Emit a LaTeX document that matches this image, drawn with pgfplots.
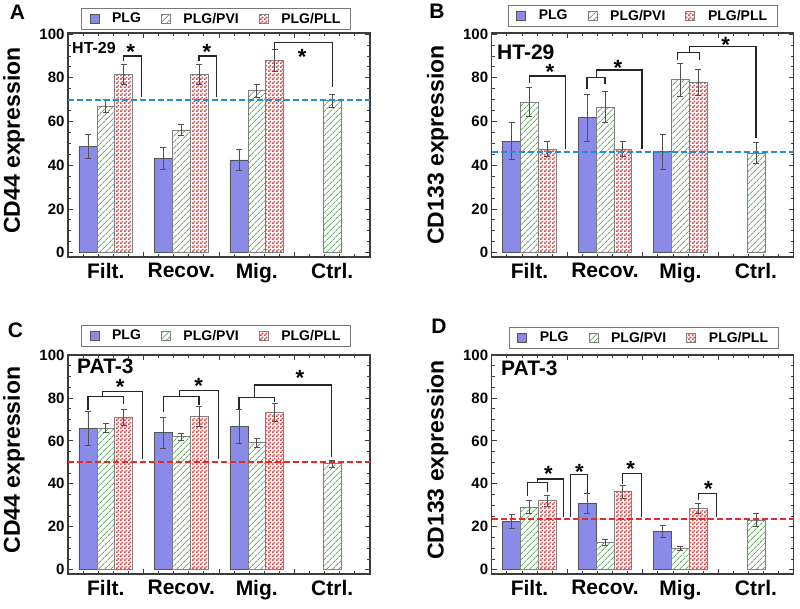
\documentclass[border=0pt]{standalone}
\usepackage{fontspec}
\setmainfont{Liberation Sans}
\usepackage{pgfplots}
\pgfplotsset{compat=1.18}
\usetikzlibrary{patterns,patterns.meta}

\pgfdeclarepatternformonly{checker}{\pgfpointorigin}{\pgfqpoint{4pt}{4pt}}{\pgfqpoint{4pt}{4pt}}{%
 \pgfpathrectangle{\pgfpointorigin}{\pgfqpoint{2pt}{2pt}}%
 \pgfpathrectangle{\pgfqpoint{2pt}{2pt}}{\pgfqpoint{2pt}{2pt}}%
 \pgfusepath{fill}}

\definecolor{plgblue}{RGB}{138,138,232}
\definecolor{pvigreen}{RGB}{105,180,105}
\definecolor{pllred}{RGB}{225,65,65}
\definecolor{dashblue}{RGB}{40,140,210}
\definecolor{dashred}{RGB}{235,40,40}
\definecolor{edgegray}{RGB}{85,85,85}
\definecolor{errgray}{RGB}{80,80,80}
\definecolor{framegray}{RGB}{60,60,60}
\definecolor{leggray}{RGB}{120,120,120}

\pgfplotsset{
 panel/.style={
  scale only axis, width=302pt,
  xmin=0.5, xmax=4.5, ymin=-2,
  xtick={0.5,1.5,2.5,3.5,4.5}, xticklabels={},
  minor x tick num=4,
  extra x ticks={1,2,3,4}, extra x tick labels={Filt.,Recov.,Mig.,Ctrl.},
  extra x tick style={major tick length=0pt},
  ytick={0,20,...,100}, minor y tick num=3,
  tick align=inside, major tick length=5pt, minor tick length=3pt,
  axis line style={draw=framegray, line width=1.2pt},
  every tick/.style={draw=framegray, line width=0.8pt},
  xticklabel style={font=\fontsize{21}{21}\selectfont\bfseries, yshift=-3pt},
  yticklabel style={font=\fontsize{15}{15}\selectfont\bfseries},
  /pgf/number format/assume math mode=true,
  ylabel style={font=\fontsize{23}{23}\selectfont\bfseries, at={(axis description cs:-0.179,0.52)}, anchor=center},
  legend columns=3,
  legend style={draw=leggray, line width=0.8pt, font=\fontsize{14}{14}\selectfont\bfseries, anchor=south,
    /tikz/every odd column/.append style={column sep=11pt},
    /tikz/every even column/.append style={column sep=18pt}, inner ysep=3pt, inner xsep=8pt},
  legend image code/.code={\draw[#1] (0pt,-4.5pt) rectangle (9pt,4.5pt);},
  clip=false,
 },
 errs/.style={error bars/.cd, y dir=both, y explicit,
   error bar style={draw=errgray, line width=0.7pt},
   error mark options={rotate=90, mark size=3pt, draw=errgray, line width=0.7pt}},
 plgstyle/.style={ybar, bar width=0.237, bar shift=0pt, fill=plgblue, draw=edgegray, line width=0.6pt, errs},
 pvistyle/.style={ybar, bar width=0.237, bar shift=0pt, pattern={Lines[angle=45,distance=4pt,line width=0.9pt]}, pattern color=pvigreen, draw=gray, line width=0.6pt, errs},
 pllstyle/.style={ybar, bar width=0.237, bar shift=0pt, pattern=checker, pattern color=pllred, draw=gray, line width=0.6pt, errs},
 dashb/.style={forget plot, dashblue, line width=1.8pt, dash pattern=on 6pt off 3pt},
 dashr/.style={forget plot, dashred, line width=1.8pt, dash pattern=on 6pt off 3pt},
}
\tikzset{brk/.style={line width=1.3pt, draw=black!85, line join=miter},
 star/.style={font=\fontsize{22}{22}\selectfont\bfseries, inner sep=0pt, yshift=-4pt},
 panellab/.style={font=\fontsize{21}{21}\selectfont\bfseries, inner sep=0pt}}

\begin{document}
\begin{tikzpicture}[x=1pt,y=1pt]
% ---------------- A ----------------
\begin{axis}[panel, at={(68pt,-257pt)}, anchor=south west, height=224pt, ymax=100.5,
  ylabel={CD44 expression}, legend style={at={(0.49,1)}, yshift=3pt}]
\addplot[plgstyle] table[x=x,y=y,y error=e,row sep=\\]{x y e\\ 0.763 48.5 5.4\\ 1.763 43 5\\ 2.763 42.4 4.7\\};
\addplot[pvistyle] table[x=x,y=y,y error=e,row sep=\\]{x y e\\ 1 67.1 3\\ 2 56.1 2.5\\ 3 74.2 3\\ 4 69.6 3\\};
\addplot[pllstyle] table[x=x,y=y,y error=e,row sep=\\]{x y e\\ 1.237 81.5 4.6\\ 2.237 81.5 4.5\\ 3.237 87.8 5\\};
\legend{PLG,PLG/PVI,PLG/PLL}
\addplot[dashb] coordinates {(0.5,70) (4.5,70)};
\draw[brk] (axis cs:1.237,87.5) -- (axis cs:1.237,90) -- (axis cs:1.47,90) -- (axis cs:1.47,71.4);
\draw[brk] (axis cs:2.237,87.5) -- (axis cs:2.237,90) -- (axis cs:2.47,90) -- (axis cs:2.47,71.4);
\draw[brk] (axis cs:3.237,92.8) -- (axis cs:3.237,96.3) -- (axis cs:4,96.3) -- (axis cs:4,75.7);
\node[star] at (axis cs:1.33,93.6) {*};
\node[star] at (axis cs:2.34,93.6) {*};
\node[star] at (axis cs:3.6,91.6) {*};
\end{axis}
% ---------------- B ----------------
\begin{axis}[panel, at={(491.7pt,-257pt)}, anchor=south west, height=224pt, ymax=100.5,
  ylabel={CD133 expression}, ylabel style={at={(axis description cs:-0.179,0.5)}},
  legend style={at={(0.5,1)}, yshift=6pt}]
\addplot[plgstyle] table[x=x,y=y,y error=e,row sep=\\]{x y e\\ 0.763 51 8.5\\ 1.763 61.7 10.6\\ 2.763 46.3 8\\};
\addplot[pvistyle] table[x=x,y=y,y error=e,row sep=\\]{x y e\\ 1 69 6.5\\ 2 66.7 6.9\\ 3 79.1 7.7\\ 4 45.6 4.8\\};
\addplot[pllstyle] table[x=x,y=y,y error=e,row sep=\\]{x y e\\ 1.237 47.4 3.4\\ 2.237 47.4 3.4\\ 3.237 78 5.9\\};
\legend{PLG,PLG/PVI,PLG/PLL}
\addplot[dashb] coordinates {(0.5,46) (4.5,46)};
\draw[brk] (axis cs:1,77.8) -- (axis cs:1,80.8) -- (axis cs:1.48,80.8) -- (axis cs:1.48,47.5);
\draw[brk] (axis cs:1.763,74.7) -- (axis cs:1.763,80) -- (axis cs:2,80) -- (axis cs:2,77);
\draw[brk] (axis cs:1.89,80) -- (axis cs:1.89,83.6) -- (axis cs:2.49,83.6) -- (axis cs:2.49,47.5);
\draw[brk] (axis cs:2.96,88.2) -- (axis cs:2.96,91.6) -- (axis cs:3.25,91.6) -- (axis cs:3.25,88.2);
\draw[brk] (axis cs:3.12,91.6) -- (axis cs:3.12,94.2) -- (axis cs:4,94.2) -- (axis cs:4,52.5);
\node[star] at (axis cs:1.27,84.5) {*};
\node[star] at (axis cs:2.17,86.5) {*};
\node[star] at (axis cs:3.6,97) {*};
\end{axis}
% ---------------- C ----------------
\begin{axis}[panel, at={(68pt,-574pt)}, anchor=south west, height=219pt, ymax=100,
  ylabel={CD44 expression}, legend style={at={(0.49,1)}, yshift=8pt}]
\addplot[plgstyle] table[x=x,y=y,y error=e,row sep=\\]{x y e\\ 0.763 66 7.9\\ 1.763 63.8 7.3\\ 2.763 66.7 7.9\\};
\addplot[pvistyle] table[x=x,y=y,y error=e,row sep=\\]{x y e\\ 1 66 2.2\\ 2 62 1.7\\ 3 59.2 2\\ 4 49.4 1.7\\};
\addplot[pllstyle] table[x=x,y=y,y error=e,row sep=\\]{x y e\\ 1.237 71 3.9\\ 2.237 71.5 4.5\\ 3.237 73.4 4.2\\};
\legend{PLG,PLG/PVI,PLG/PLL}
\addplot[dashr] coordinates {(0.5,50) (4.5,50)};
\draw[brk] (axis cs:0.763,74.4) -- (axis cs:0.763,80.6) -- (axis cs:1.237,80.6) -- (axis cs:1.237,77.2);
\draw[brk] (axis cs:0.96,80.6) -- (axis cs:0.96,82.9) -- (axis cs:1.485,82.9) -- (axis cs:1.485,51.7);
\draw[brk] (axis cs:1.763,73.5) -- (axis cs:1.763,80.6) -- (axis cs:2.237,80.6) -- (axis cs:2.237,76.5);
\draw[brk] (axis cs:1.98,80.6) -- (axis cs:1.98,83.4) -- (axis cs:2.49,83.4) -- (axis cs:2.49,51.7);
\draw[brk] (axis cs:2.763,74.9) -- (axis cs:2.763,80.3) -- (axis cs:3.237,80.3) -- (axis cs:3.237,78);
\draw[brk] (axis cs:2.97,80.3) -- (axis cs:2.97,86) -- (axis cs:3.99,86) -- (axis cs:3.99,52.5);
\node[star] at (axis cs:1.19,86.8) {*};
\node[star] at (axis cs:2.23,87.3) {*};
\node[star] at (axis cs:3.57,91.4) {*};
\end{axis}
% ---------------- D ----------------
\begin{axis}[panel, at={(491.7pt,-574pt)}, anchor=south west, height=219pt, ymax=100,
  ylabel={CD133 expression}, legend style={at={(0.503,1)}, yshift=6pt}]
\addplot[plgstyle] table[x=x,y=y,y error=e,row sep=\\]{x y e\\ 0.763 22.4 3.3\\ 1.763 30.9 4.6\\ 2.763 17.8 2.7\\};
\addplot[pvistyle] table[x=x,y=y,y error=e,row sep=\\]{x y e\\ 1 29.3 3.1\\ 2 12.7 1.3\\ 3 10 0.9\\ 4 23.2 3.1\\};
\addplot[pllstyle] table[x=x,y=y,y error=e,row sep=\\]{x y e\\ 1.237 32.1 2.7\\ 2.237 36.3 3.2\\ 3.237 28.6 2.5\\};
\legend{PLG,PLG/PVI,PLG/PLL}
\addplot[dashr] coordinates {(0.5,23.5) (4.5,23.5)};
\draw[brk] (axis cs:0.97,34.3) -- (axis cs:0.97,40.5) -- (axis cs:1.237,40.5) -- (axis cs:1.237,36.3);
\draw[brk] (axis cs:1.105,40.5) -- (axis cs:1.105,42.2) -- (axis cs:1.45,42.2) -- (axis cs:1.45,24.7);
\draw[brk] (axis cs:1.54,24.7) -- (axis cs:1.54,44.5) -- (axis cs:1.77,44.5) -- (axis cs:1.77,35.8);
\draw[brk] (axis cs:2.237,39.7) -- (axis cs:2.237,44.8) -- (axis cs:2.48,44.8) -- (axis cs:2.48,24.7);
\draw[brk] (axis cs:3.237,32.4) -- (axis cs:3.237,35.5) -- (axis cs:3.48,35.5) -- (axis cs:3.48,24.7);
\node[star] at (axis cs:1.25,46.3) {*};
\node[star] at (axis cs:1.66,47.5) {*};
\node[star] at (axis cs:2.34,49) {*};
\node[star] at (axis cs:3.37,39.7) {*};
\end{axis}
% panel letters and cell labels
\node[panellab] at (17.5,-12.5) {A};
\node[panellab] at (437,-11) {B};
\node[panellab] at (15.5,-330) {C};
\node[panellab] at (439,-326) {D};
\node[anchor=west, inner sep=0pt, font=\fontsize{16}{16}\selectfont\bfseries] at (72,-48) {HT-29};
\node[anchor=west, inner sep=0pt, font=\fontsize{21}{21}\selectfont\bfseries] at (497,-52) {HT-29};
\node[anchor=west, inner sep=0pt, font=\fontsize{21}{21}\selectfont\bfseries] at (77,-366) {PAT-3};
\node[anchor=west, inner sep=0pt, font=\fontsize{21}{21}\selectfont\bfseries] at (501,-368) {PAT-3};
\pgfresetboundingbox
\path[use as bounding box] (0,0) rectangle (800,-608);
\end{tikzpicture}
\end{document}
